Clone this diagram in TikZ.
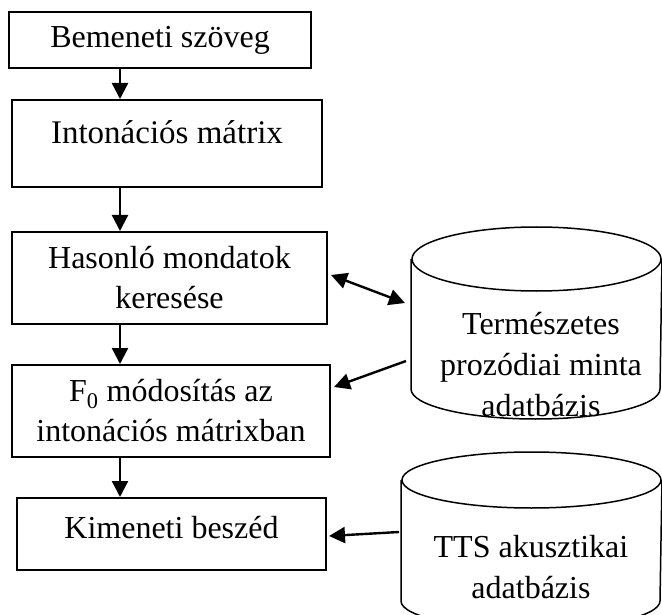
\documentclass[tikz,border=0pt]{standalone}
\usepackage{fontspec}
\setmainfont{Liberation Serif}
\usetikzlibrary{calc,arrows.meta}

\begin{document}
\begin{tikzpicture}[x=1pt,y=-1pt,line width=2pt,
  box/.style={draw,rectangle,align=center,inner sep=0pt,font=\fontsize{32}{40}\selectfont},
  dbbody/.style={inner sep=0pt},
  dblabel/.style={align=center,inner sep=0pt,font=\fontsize{32}{41}\selectfont},
  flow/.style={-{Triangle[length=16pt,width=16pt]},line width=2.4pt},
  both/.style={{Triangle[length=16pt,width=16pt]}-{Triangle[length=16pt,width=16pt]},line width=2.4pt}]
  \useasboundingbox (0,0) rectangle (662,615);
  \clip (0,0) rectangle (662,615);
  \coordinate (spine) at (120,0);
  \node[box,minimum width=302pt,minimum height=56pt] (inp) at (160,40) {Bemeneti szöveg};
  \node[box,minimum width=310pt,minimum height=87pt,font=\fontsize{33}{40}\selectfont,text depth=22pt] (mat) at (167,143.5) {Intonációs mátrix};
  \node[box,minimum width=315pt,minimum height=92pt] (sim) at (169.5,278) {Hasonló mondatok\\keresése};
  \node[box,minimum width=318pt,minimum height=92pt] (mod) at (171,411) {F\textsubscript{0} módosítás az\\intonációs mátrixban};
  \node[box,minimum width=309pt,minimum height=72pt,text depth=14pt] (out) at (171.5,534) {Kimeneti beszéd};
  \draw[flow] (inp.south -| spine) -- (mat.north -| spine);
  \draw[flow] (mat.south -| spine) -- (sim.north -| spine);
  \draw[flow] (sim.south -| spine) -- (mod.north -| spine);
  \draw[flow] (mod.south -| spine) -- (out.north -| spine);
  % adatbazisok
  \node[dbbody,minimum width=249pt,minimum height=128pt] (prosodb) at (536.5,324) {};
  \draw[line width=1.5pt] (prosodb.north) ellipse [x radius=124.5pt,y radius=32pt];
  \draw[line width=1.5pt] (prosodb.north west) -- (prosodb.south west)
    arc[start angle=180,end angle=360,x radius=124.5pt,y radius=30pt] -- (prosodb.north east);
  \node[dblabel] (prosolbl) at (541,365) {Természetes\\prozódiai minta\\adatbázis};
  \node[dbbody,minimum width=259pt,minimum height=119pt] (ttsdb) at (531.5,540.5) {};
  \draw[line width=1.5pt] (ttsdb.north) ellipse [x radius=129.5pt,y radius=28pt];
  \draw[line width=1.5pt] (ttsdb.north west) -- (ttsdb.south west)
    arc[start angle=180,end angle=360,x radius=129.5pt,y radius=28pt] -- (ttsdb.north east);
  \node[dblabel] (ttslbl) at (531,567.5) {TTS akusztikai\\adatbázis};
  \draw[both] ($(sim.east)+(3,-3)$) -- ($(prosodb.west)+(-6,-21)$);
  \draw[flow] ($(prosodb.west)+(-5,37)$) -- ($(mod.east)+(3,-24)$);
  \draw[flow] ($(ttsdb.west)+(-2,-8.5)$) -- ($(out.east)+(2,2)$);
\end{tikzpicture}
\end{document}
